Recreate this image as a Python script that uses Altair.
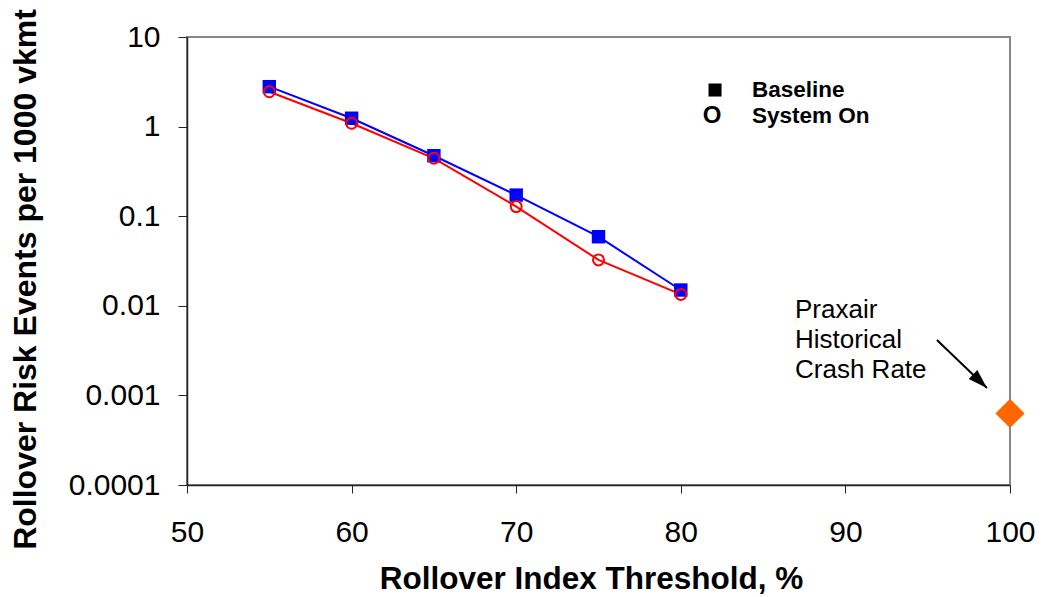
import altair as alt
import pandas as pd

# Data
thresholds = [55, 60, 65, 70, 75, 80]
baseline = [2.79, 1.24, 0.473, 0.172, 0.059, 0.015]
system_on = [2.45, 1.09, 0.443, 0.128, 0.0325, 0.0134]

historical_x = [100]
historical_y = [0.00063]

y_ticks = [10, 1, 0.1, 0.01, 0.001, 0.0001]
x_ticks = [50, 60, 70, 80, 90, 100]

# annotation anchors (data coordinates)
note_lines = ["Praxair", "Historical", "Crash Rate"]
note_x = [86.94, 86.94, 86.94]
note_y = [0.00898, 0.00415, 0.00192]
arrow_x = [95.56]
arrow_y = [0.00415]
arrow_x2 = [98.60]
arrow_y2 = [0.00121]

legend_labels = ["Baseline", "System On"]
legend_marker_x = [82.08, 81.9]
legend_text_x = [84.33, 84.33]
legend_y = [2.56, 1.30]

FONT = "Liberation Sans"

df_base = pd.DataFrame({"x": thresholds, "y": baseline})
df_sys = pd.DataFrame({"x": thresholds, "y": system_on})
df_hist = pd.DataFrame({"x": historical_x, "y": historical_y})
df_note = pd.DataFrame({"x": note_x, "y": note_y, "t": note_lines})
df_arrow = pd.DataFrame({"x": arrow_x, "y": arrow_y, "x2": arrow_x2, "y2": arrow_y2})
df_head = pd.DataFrame({"x": arrow_x2, "y": arrow_y2})
df_leg = pd.DataFrame({"mx": legend_marker_x, "tx": legend_text_x, "y": legend_y,
                       "t": legend_labels})

xscale = alt.Scale(domain=[50, 100], nice=False, zero=False)
yscale = alt.Scale(type="log", domain=[0.0001, 10], nice=False)

xaxis = alt.Axis(values=x_ticks, title="Rollover Index Threshold, %", grid=False,
                 labelFont=FONT, labelFontSize=30, labelColor="black", labelPadding=24,
                 labelFlush=False, labelOverlap=False,
                 tickSize=8, tickColor="#222", domainColor="#222", domainWidth=1.5,
                 titleFont=FONT, titleFontSize=31.5, titleFontWeight="bold", titleColor="black",
                 titleX=404, titleY=94, titleBaseline="middle", titleAnchor="middle")
yaxis = alt.Axis(values=y_ticks, format="~g", title="Rollover Risk Events per 1000 vkmt",
                 grid=False, labelFont=FONT, labelFontSize=30, labelColor="black",
                 labelPadding=18, labelFlush=False, labelOverlap=False,
                 tickSize=9, tickColor="#222", domainColor="#222",
                 domainWidth=1.5, titleFont=FONT, titleFontSize=32, titleFontWeight="bold",
                 titleColor="black", titleAngle=270, titleX=-162, titleY=242,
                 titleBaseline="middle", titleAnchor="middle")

X = alt.X("x:Q", scale=xscale, axis=xaxis)
Y = alt.Y("y:Q", scale=yscale, axis=yaxis)

base_line = alt.Chart(df_base).mark_line(color="#0000FF", strokeWidth=2).encode(x=X, y=Y)
base_pts = alt.Chart(df_base).mark_point(shape="square", filled=True, color="#0000FF",
                                         size=180, opacity=1).encode(x="x:Q", y="y:Q")
sys_line = alt.Chart(df_sys).mark_line(color="#FF0000", strokeWidth=2).encode(x="x:Q", y="y:Q")
sys_pts = alt.Chart(df_sys).mark_point(shape="circle", filled=False, color="#FF0000",
                                       size=120, strokeWidth=2, opacity=1).encode(x="x:Q", y="y:Q")
hist = alt.Chart(df_hist).mark_point(shape="diamond", filled=True, color="#FF6600",
                                     size=850, opacity=1).encode(x="x:Q", y="y:Q")

note = alt.Chart(df_note).mark_text(font=FONT, fontSize=26, align="left", baseline="middle",
                                    color="black").encode(x="x:Q", y="y:Q", text="t:N")
arrow = alt.Chart(df_arrow).mark_rule(color="black", strokeWidth=2).encode(
    x="x:Q", y="y:Q", x2="x2:Q", y2="y2:Q")
head = alt.Chart(df_head).mark_point(shape="M0,0 L-1,-0.32 L-1,0.32 Z", filled=True,
                                     color="black", size=1500, angle=44, opacity=1).encode(
    x="x:Q", y="y:Q")

leg_sq = alt.Chart(df_leg.iloc[[0]]).mark_point(shape="square", filled=True, color="black",
                                                size=170, opacity=1).encode(x="mx:Q", y="y:Q")
leg_o = alt.Chart(df_leg.iloc[[1]]).mark_text(font=FONT, fontSize=24, fontWeight="bold",
                                              color="black", baseline="middle").encode(
    x="mx:Q", y="y:Q", text=alt.value("O"))
leg_txt = alt.Chart(df_leg).mark_text(font=FONT, fontSize=22.5, fontWeight="bold", align="left",
                                      baseline="middle", color="black").encode(
    x="tx:Q", y="y:Q", text="t:N")

chart = alt.layer(base_line, sys_line, base_pts, sys_pts, hist, arrow, head, note,
                  leg_sq, leg_o, leg_txt).properties(
    width=823, height=448,
    padding={"left": 187, "top": 37, "right": 32, "bottom": 112},
    autosize=alt.AutoSizeParams(type="none"),
    background="white",
).configure_view(stroke="#888888", strokeWidth=2)

chart.save("out.html", embed_options={"renderer": "svg", "actions": False})
